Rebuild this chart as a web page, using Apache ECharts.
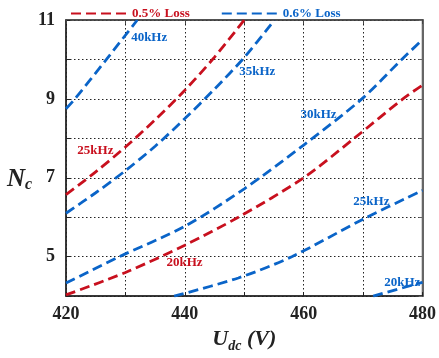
<!DOCTYPE html>
<html>
<head>
<meta charset="utf-8">
<script src="https://cdn.jsdelivr.net/npm/echarts@6/dist/echarts.min.js"></script>
<style>
  html, body { margin: 0; padding: 0; background: #fff; }
  #chart { width: 439px; height: 358px; }
</style>
</head>
<body>
<div id="chart"></div>
<script>
// Number of capacitor cells Nc needed vs. DC voltage, per loss budget and switching frequency.

// 0.5 % loss budget
const loss05_25k = [[420, 6.57], [425, 7.15], [430, 7.78], [435, 8.47], [440, 9.22], [445, 10.06], [450, 11.0]];
const loss05_20k = [[420, 4.03], [430, 4.6], [440, 5.29], [449, 6.0], [460, 7.0], [468.5, 8.0], [476.7, 9.0], [480, 9.35]];

// 0.6 % loss budget
const loss06_40k = [[420, 8.75], [421.5, 9.0], [426.8, 10.0], [432, 11.0]];
const loss06_35k = [[420, 6.1], [425, 6.62], [430, 7.18], [435, 7.8], [440, 8.5], [445, 9.25], [450, 10.05], [455.1, 11.0]];
const loss06_30k = [[420, 4.33], [429, 5.0], [440, 5.77], [450, 6.72], [460, 7.83], [469.8, 9.0], [476.5, 10.0], [480, 10.5]];
const loss06_25k = [[438.2, 4.0], [449, 4.46], [458, 5.0], [470, 5.95], [480, 6.68]];
const loss06_20k = [[471.7, 4.0], [480, 4.35]];

const seriesNames = ['0.5% Loss', '0.6% Loss'];
const xTicks = [420, 440, 460, 480];
const yTicks = [5, 7, 9, 11];

const RED = '#c8101e';
const BLUE = '#0a64c8';
const SERIF = '"Liberation Serif", "Times New Roman", serif';

function curve(name, color, data, tag, at) {
  return {
    name: name,
    type: 'line',
    data: data,
    smooth: 0.3,
    symbol: 'none',
    showSymbol: false,
    lineStyle: { color: color, width: 2.8, type: [10, 5] },
    itemStyle: { color: color },
    markPoint: {
      silent: true,
      symbol: 'circle',
      symbolSize: 0,
      label: {
        show: true, position: 'inside', formatter: tag,
        color: color, fontFamily: SERIF, fontWeight: 'bold', fontSize: 13
      },
      data: [{ coord: at }]
    },
    z: 3
  };
}

const chart = echarts.init(document.getElementById('chart'), null, { renderer: 'canvas' });

const axisLineStyle = { color: '#222', width: 1.5 };

chart.setOption({
  animation: false,
  backgroundColor: '#fff',
  legend: {
    top: 2,
    left: 65,
    itemWidth: 56,
    itemHeight: 14,
    itemGap: 31,
    itemStyle: { opacity: 0 },
    data: [
      { name: seriesNames[0], textStyle: { color: RED } },
      { name: seriesNames[1], textStyle: { color: BLUE } }
    ],
    textStyle: { fontFamily: SERIF, fontWeight: 'bold', fontSize: 13 }
  },
  grid: {
    left: 66, right: 13, top: 20, bottom: 54,
    show: true, borderColor: '#555', borderWidth: 1.5
  },
  xAxis: [{
    type: 'value', min: 420, max: 480, interval: 10,
    name: '{u|U}{s|dc}{u| (V)}',
    nameLocation: 'middle', nameGap: 26,
    nameTextStyle: {
      rich: {
        u: { fontFamily: SERIF, fontSize: 22, fontStyle: 'italic', fontWeight: 'bold', color: '#222', verticalAlign: 'top', lineHeight: 26 },
        s: { fontFamily: SERIF, fontSize: 14, fontStyle: 'italic', fontWeight: 'bold', color: '#222', verticalAlign: 'top', padding: [11, 0, 0, 0], lineHeight: 14 }
      }
    },
    axisLine: { show: true, lineStyle: axisLineStyle },
    axisTick: { show: true, inside: true, length: 4, lineStyle: { color: '#222' } },
    axisLabel: {
      margin: 9,
      fontFamily: SERIF, fontWeight: 'bold', fontSize: 18, color: '#222',
      formatter: v => (xTicks.indexOf(v) >= 0 ? String(v) : '')
    },
    splitLine: { show: true, lineStyle: { type: [1.5, 2.5], color: '#222', width: 1 } }
  }, {
    type: 'value', min: 420, max: 480, interval: 10, position: 'top',
    axisLine: { show: true, lineStyle: { color: '#444', width: 1.5 } },
    axisTick: { show: true, inside: true, length: 4, lineStyle: { color: '#444' } },
    axisLabel: { show: false },
    splitLine: { show: false }
  }],
  yAxis: [{
    type: 'value', min: 4, max: 11, interval: 1,
    name: '{n|N}{c|c}',
    nameLocation: 'middle', nameRotate: 0, nameGap: 33,
    nameTextStyle: {
      padding: [46, 0, 0, 0],
      rich: {
        n: { fontFamily: SERIF, fontSize: 25, fontStyle: 'italic', fontWeight: 'bold', color: '#222', verticalAlign: 'top', lineHeight: 28 },
        c: { fontFamily: SERIF, fontSize: 16, fontStyle: 'italic', fontWeight: 'bold', color: '#222', verticalAlign: 'top', padding: [10, 0, 0, 0], lineHeight: 16 }
      }
    },
    axisLine: { show: true, lineStyle: axisLineStyle },
    axisTick: { show: true, inside: true, length: 4, lineStyle: { color: '#222' } },
    axisLabel: {
      margin: 11,
      fontFamily: SERIF, fontWeight: 'bold', fontSize: 18, color: '#222',
      formatter: v => (yTicks.indexOf(v) >= 0 ? String(v) : '')
    },
    splitLine: { show: true, lineStyle: { type: [1.5, 2.5], color: '#222', width: 1 } }
  }, {
    type: 'value', min: 4, max: 11, interval: 1, position: 'right',
    axisLine: { show: true, lineStyle: { color: '#666', width: 2 } },
    axisTick: { show: true, inside: true, length: 4, lineStyle: { color: '#666' } },
    axisLabel: { show: false },
    splitLine: { show: false }
  }],
  series: [
    curve(seriesNames[0], RED, loss05_25k, '25kHz', [424.95, 7.68]),
    curve(seriesNames[0], RED, loss05_20k, '20kHz', [439.95, 4.85]),
    curve(seriesNames[1], BLUE, loss06_40k, '40kHz', [434.0, 10.56]),
    curve(seriesNames[1], BLUE, loss06_35k, '35kHz', [452.2, 9.68]),
    curve(seriesNames[1], BLUE, loss06_30k, '30kHz', [462.5, 8.59]),
    curve(seriesNames[1], BLUE, loss06_25k, '25kHz', [471.4, 6.4]),
    curve(seriesNames[1], BLUE, loss06_20k, '20kHz', [476.6, 4.35])
  ]
});
</script>
</body>
</html>
